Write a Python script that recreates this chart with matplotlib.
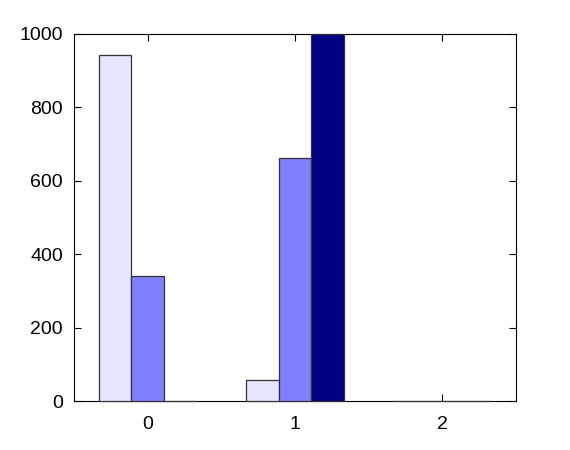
import matplotlib
matplotlib.use("Agg")
import matplotlib.pyplot as plt
import numpy as np

# data
categories = [0, 1, 2]
series_a = [943, 58, 0]
series_b = [340, 662, 0]
series_c = [0, 1000, 0]
colors = ["#e5e5ff", "#8080ff", "#000080"]

plt.rcParams["font.family"] = ["Liberation Sans", "DejaVu Sans"]

fig = plt.figure(figsize=(5.7, 4.5), dpi=100)
ax = fig.add_axes([74 / 570, 49 / 450, 442 / 570, 367 / 450])

x = np.array(categories, dtype=float)
w = 2 / 9
for i, (vals, c) in enumerate(zip([series_a, series_b, series_c], colors)):
    ax.bar(x + (i - 1) * w, vals, width=w, color=c, edgecolor="#333333",
           linewidth=0.9, zorder=3, clip_on=False)

ax.set_xlim(-0.5, 2.5)
ax.set_ylim(0, 1000)
ax.set_xticks(categories)
ax.set_yticks([0, 200, 400, 600, 800, 1000])
ax.tick_params(direction="in", top=True, right=True, length=5,
               labelsize=14, pad=8, width=0.8)
ax.tick_params(axis="x", pad=11)
for s in ax.spines.values():
    s.set_linewidth(0.8)

fig.savefig("out.png", dpi=100)
